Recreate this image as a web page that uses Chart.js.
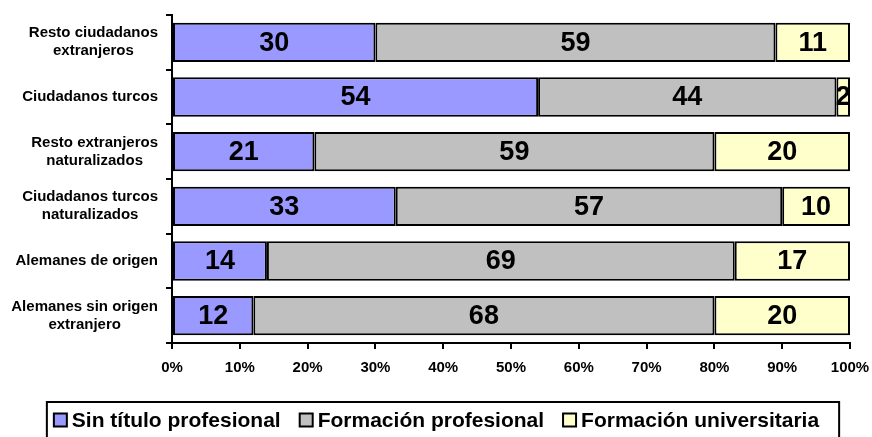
<!DOCTYPE html>
<html>
<head>
<meta charset="utf-8">
<script src="https://cdn.jsdelivr.net/npm/chart.js@4/dist/chart.umd.min.js"></script>
<style>
  body { margin: 0; background: #fff; }
  #wrap { width: 872px; height: 437px; position: relative; }
</style>
</head>
<body>
<div id="wrap"><canvas id="chart"></canvas></div>
<script>
const categories = [
    ['Resto ciudadanos', 'extranjeros'],
    'Ciudadanos turcos',
    ['Resto extranjeros', 'naturalizados'],
    ['Ciudadanos turcos', 'naturalizados'],
    'Alemanes de origen',
    ['Alemanes sin origen', 'extranjero']
];
const sinTitulo = [30, 54, 21, 33, 14, 12];
const formacionProf = [59, 44, 59, 57, 69, 68];
const formacionUniv = [11, 2, 20, 10, 17, 20];
const seriesNames = ['Sin título profesional', 'Formación profesional', 'Formación universitaria'];
const seriesColors = ['#9999FF', '#C0C0C0', '#FFFFCC'];

const FONT = "'Liberation Sans', Arial, sans-serif";

// numbers in the middle of each segment
const segmentLabels = {
    id: 'segmentLabels',
    afterDatasetsDraw(chart) {
        const ctx = chart.ctx;
        ctx.save();
        ctx.font = 'bold 27px ' + FONT;
        ctx.fillStyle = '#000';
        ctx.textAlign = 'center';
        ctx.textBaseline = 'middle';
        chart.data.datasets.forEach((ds, i) => {
            chart.getDatasetMeta(i).data.forEach((bar, j) => {
                const cx = (bar.x + bar.base) / 2;
                ctx.fillText(ds.data[j], cx, bar.y + 1);
            });
        });
        ctx.restore();
    }
};

// category labels: block right-aligned to the axis, lines centred inside it (Excel style)
const categoryLabels = {
    id: 'categoryLabels',
    afterDraw(chart) {
        const ctx = chart.ctx;
        const y = chart.scales.y;
        const lineH = 18;
        ctx.save();
        ctx.font = 'bold 15px ' + FONT;
        ctx.fillStyle = '#000';
        ctx.textAlign = 'center';
        ctx.textBaseline = 'middle';
        const rightEdge = y.right - 14;
        chart.data.labels.forEach((lab, i) => {
            const lines = Array.isArray(lab) ? lab : [lab];
            const blockW = Math.max(...lines.map(l => ctx.measureText(l).width));
            const cx = rightEdge - blockW / 2;
            const cy = y.getPixelForTick(i);
            lines.forEach((l, k) => {
                ctx.fillText(l, cx, cy + (k - (lines.length - 1) / 2) * lineH);
            });
        });
        ctx.restore();
    }
};

// legend with a frame round it
const boxedLegend = {
    id: 'boxedLegend',
    afterDraw(chart) {
        const ctx = chart.ctx;
        ctx.save();
        ctx.font = 'bold 21px ' + FONT;
        const sw = 13, gap = 5, itemGap = 19;
        const widths = chart.data.datasets.map(ds => ctx.measureText(ds.label).width);
        let content = widths.reduce((a, b) => a + b, 0) + widths.length * (sw + gap) + (widths.length - 1) * itemGap;
        const padL = 7, padR = 20;
        const boxW = content + padL + padR;
        const left = 443 - boxW / 2;
        const top = 402;
        ctx.strokeStyle = '#000';
        ctx.lineWidth = 2;
        ctx.strokeRect(left, top, boxW, 50);
        const cy = 420;
        let x = left + padL;
        ctx.textBaseline = 'middle';
        ctx.textAlign = 'left';
        chart.data.datasets.forEach((ds, i) => {
            ctx.fillStyle = ds.backgroundColor;
            ctx.fillRect(x, cy - sw / 2, sw, sw);
            ctx.strokeRect(x, cy - sw / 2, sw, sw);
            x += sw + gap;
            ctx.fillStyle = '#000';
            ctx.fillText(ds.label, x, cy + 1);
            x += widths[i] + itemGap;
        });
        ctx.restore();
    }
};

new Chart(document.getElementById('chart'), {
    type: 'bar',
    data: {
        labels: categories,
        datasets: [
            { label: seriesNames[0], data: sinTitulo, backgroundColor: seriesColors[0] },
            { label: seriesNames[1], data: formacionProf, backgroundColor: seriesColors[1] },
            { label: seriesNames[2], data: formacionUniv, backgroundColor: seriesColors[2] }
        ].map(d => Object.assign(d, {
            borderColor: '#000',
            borderWidth: 2,
            borderSkipped: false,
            categoryPercentage: 1,
            barPercentage: 0.72
        }))
    },
    options: {
        indexAxis: 'y',
        responsive: true,
        maintainAspectRatio: false,
        animation: false,
        layout: { padding: { top: 15, right: 22, left: 0, bottom: 0 } },
        plugins: {
            legend: { display: false },
            tooltip: { enabled: false }
        },
        scales: {
            x: {
                stacked: true,
                min: 0,
                max: 100,
                afterFit(scale) {
                    scale.height = 94;
                    scale.paddingLeft = 0;
                    scale.paddingRight = 0;
                },
                ticks: {
                    stepSize: 10,
                    callback: v => v + '%',
                    color: '#000',
                    font: { family: FONT, size: 15, weight: 'bold' },
                    padding: 10,
                    maxRotation: 0
                },
                grid: { drawOnChartArea: false, tickLength: 6, color: '#000', lineWidth: 2 },
                border: { color: '#000', width: 2 }
            },
            y: {
                stacked: true,
                afterFit(scale) {
                    scale.width = 172;
                    scale.paddingTop = 0;
                    scale.paddingBottom = 0;
                },
                ticks: { display: false },
                grid: { drawOnChartArea: false, offset: true, tickLength: 6, color: '#000', lineWidth: 2 },
                border: { color: '#000', width: 2 }
            }
        }
    },
    plugins: [segmentLabels, categoryLabels, boxedLegend]
});
</script>
</body>
</html>
